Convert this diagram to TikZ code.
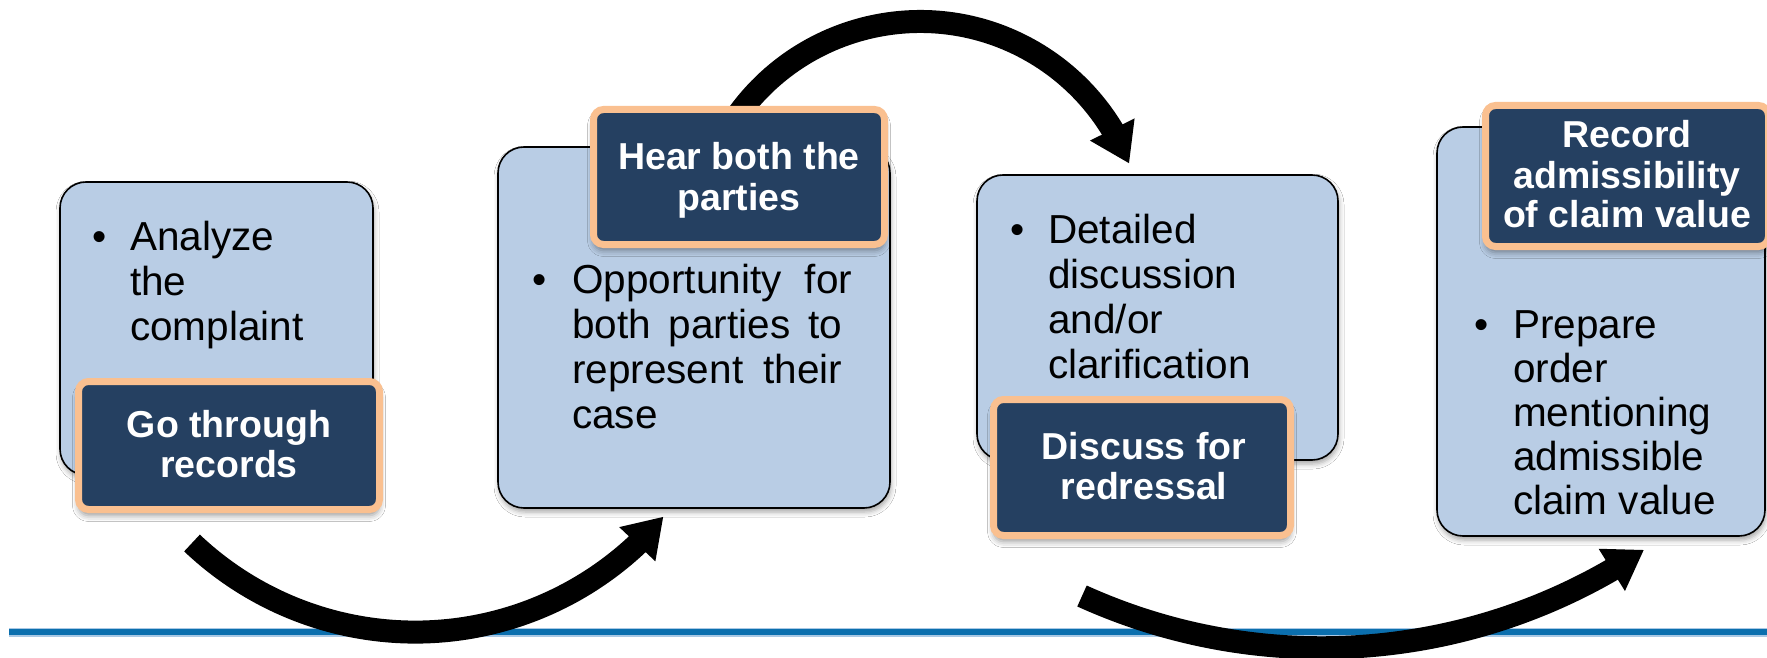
\documentclass[tikz,border=0pt]{standalone}
\usepackage{fontspec}
\setmainfont{Liberation Sans}
\usetikzlibrary{arrows.meta,bending,shadows.blur}
\definecolor{lightfill}{HTML}{B9CDE5}
\definecolor{darkfill}{HTML}{254061}
\definecolor{orangeedge}{HTML}{FAC090}
\definecolor{rulecol}{HTML}{0B6FAE}
\definecolor{rulelight}{HTML}{A9C8E4}
\newcommand\bodytxt[2]{\parbox[t]{330pt}{\raggedright\fontsize{40.5}{#1}\selectfont #2}}
\newcommand\headtxt[1]{\parbox[t]{320pt}{\centering\fontsize{37.5}{40}\selectfont\bfseries #1}}
\newcommand\justline[2]{\makebox[#1][s]{#2}}
\begin{document}
\begin{tikzpicture}[x=1pt,y=1pt,
  lightbox/.style={draw=black, line width=1.6pt, fill=lightfill, rounded corners=26pt,
    inner sep=0pt, outer sep=0pt,
    blur shadow={shadow xshift=1pt, shadow yshift=-4pt, shadow blur radius=5pt, shadow opacity=35}},
  darkbox/.style={draw=orangeedge, line width=7pt, fill=darkfill, rounded corners=10pt,
    inner sep=0pt, outer sep=0pt,
    blur shadow={shadow xshift=0pt, shadow yshift=-6pt, shadow blur radius=6pt, shadow opacity=40}},
  bodytext/.style={anchor=base west, inner sep=0pt, text=black},
  headtext/.style={anchor=base, inner sep=0pt, text=white},
  bulletmark/.style={anchor=base, inner sep=0pt, font=\fontsize{40.5}{45}\selectfont},
  bigarrow/.style={draw=black, line width=23pt, -{Triangle[length=38pt,width=47pt]}}
]
\useasboundingbox (0,0) rectangle (1767,-658);
\fill[white] (0,0) rectangle (1767,-658);

% horizontal rule
\coordinate (ruleL) at (9,-632);
\coordinate (ruleR) at (1767,-632);
\draw[rulelight, line width=9pt] (ruleL) -- (ruleR);
\draw[rulecol, line width=6pt] (ruleL) -- (ruleR);

% curved arrows
\coordinate (a1s) at (192,-543);
\draw[bigarrow] (a1s) arc[start angle=226.5, end angle=319.9, radius=324.4pt];
\coordinate (a2s) at (725.5,-133.9);
\draw[bigarrow] (a2s) arc[start angle=150, end angle=21.6, radius=224.8pt];
\coordinate (a3s) at (1082,-596);
\draw[bigarrow] (a3s) arc[start angle=245.6, end angle=303.8, radius=579.8pt];

% light boxes
\node[lightbox, minimum width=313pt, minimum height=293pt] (box1) at (216.5,-328.5) {};
\node[lightbox, minimum width=392pt, minimum height=361pt] (box2) at (694,-327.5) {};
\node[lightbox, minimum width=361pt, minimum height=285pt] (box3) at (1157.5,-317.5) {};
\node[lightbox, minimum width=328pt, minimum height=409pt] (box4) at (1601,-331.5) {};

% dark heading boxes
\node[darkbox, minimum width=301pt, minimum height=128pt] (head1) at (229,-445.5) {};
\node[darkbox, minimum width=291pt, minimum height=135pt] (head2) at (739,-177) {};
\node[darkbox, minimum width=297pt, minimum height=136pt] (head3) at (1142,-467.5) {};
\node[darkbox, minimum width=283pt, minimum height=141pt] (head4) at (1627,-176) {};

% bullet texts
\node[bulletmark] (dot1) at (100,-250) {•};
\node[bodytext] (txt1) at (130,-250) {\bodytxt{45}{Analyze\\the\\complaint}};
\node[bulletmark] (dot2) at (540,-293) {•};
\node[bodytext] (txt2) at (572,-293) {\bodytxt{45}{\justline{280pt}{Opportunity for}\\\justline{270pt}{both parties to}\\\justline{270pt}{represent their}\\case}};
\node[bulletmark] (dot3) at (1018,-243) {•};
\node[bodytext] (txt3) at (1048,-243) {\bodytxt{45}{Detailed\\discussion\\and/or\\clarification}};
\node[bulletmark] (dot4) at (1482,-338) {•};
\node[bodytext] (txt4) at (1513,-338) {\bodytxt{44}{Prepare\\order\\mentioning\\admissible\\claim value}};

% heading texts
\node[headtext] (h1) at (229,-437) {\headtxt{Go through\\records}};
\node[headtext] (h2) at (739,-170) {\headtxt{Hear both the\\parties}};
\node[headtext] (h3) at (1144,-459) {\headtxt{Discuss for\\redressal}};
\node[headtext] (h4) at (1627,-148) {\headtxt{Record\\admissibility\\of claim value}};
\end{tikzpicture}
\end{document}
